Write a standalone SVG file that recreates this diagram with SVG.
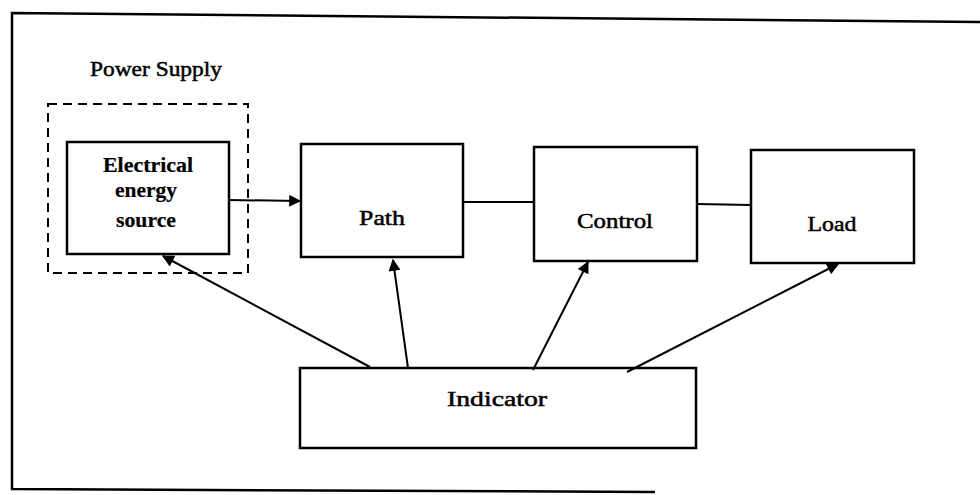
<svg xmlns="http://www.w3.org/2000/svg" width="980" height="495" viewBox="0 0 980 495">
<style>
.box{fill:#fff;stroke:#000;stroke-width:2.5}
.frame{fill:none;stroke:#000;stroke-width:2.5}
.dash{fill:none;stroke:#000;stroke-width:2;stroke-dasharray:9 6}
.ln{fill:none;stroke:#000;stroke-width:2}
.t{font-family:"Liberation Serif","Times New Roman",serif;font-size:21px;fill:#000;stroke:#000;stroke-width:0.5;text-anchor:middle}
.tb{font-weight:bold;stroke-width:0.2}
</style>
<defs>
<marker id="ah" viewBox="0 0 10 10" refX="9" refY="5" markerWidth="7" markerHeight="6" orient="auto" markerUnits="strokeWidth">
<path d="M0,0 L10,5 L0,10 z" fill="#000"/>
</marker>
</defs>
<rect width="980" height="495" fill="#fff"/>
<g id="frame">
<polyline class="frame" points="980,22 12,13 12,489 655,492"/>
</g>
<g id="power-supply">
<rect class="dash" x="48" y="104" width="200" height="169"/>
<text class="t" x="156" y="76" textLength="132" lengthAdjust="spacingAndGlyphs">Power Supply</text>
</g>
<g id="source">
<rect class="box" x="67" y="142" width="162" height="112"/>
<text class="t tb" x="148" y="172" textLength="90" lengthAdjust="spacingAndGlyphs">Electrical</text>
<text class="t tb" x="146" y="197" textLength="62" lengthAdjust="spacingAndGlyphs">energy</text>
<text class="t tb" x="146" y="227" textLength="60" lengthAdjust="spacingAndGlyphs">source</text>
</g>
<g id="path">
<rect class="box" x="301" y="144" width="162" height="113"/>
<text class="t" x="382" y="225" textLength="46" lengthAdjust="spacingAndGlyphs">Path</text>
</g>
<g id="control">
<rect class="box" x="534" y="147" width="163" height="114"/>
<text class="t" x="615" y="228" textLength="76" lengthAdjust="spacingAndGlyphs">Control</text>
</g>
<g id="load">
<rect class="box" x="751" y="150" width="163" height="113"/>
<text class="t" x="832" y="231" textLength="49" lengthAdjust="spacingAndGlyphs">Load</text>
</g>
<g id="indicator">
<rect class="box" x="300" y="368" width="396" height="80"/>
<text class="t" x="497" y="406" font-size="23" textLength="100" lengthAdjust="spacingAndGlyphs">Indicator</text>
</g>
<g id="connectors">
<line class="ln" x1="229" y1="200" x2="300" y2="201" marker-end="url(#ah)"/>
<line class="ln" x1="463" y1="202" x2="534" y2="202"/>
<line class="ln" x1="697" y1="204" x2="751" y2="205"/>
<line class="ln" x1="370" y1="367" x2="163" y2="256" marker-end="url(#ah)"/>
<line class="ln" x1="408" y1="368" x2="393" y2="260" marker-end="url(#ah)"/>
<line class="ln" x1="533" y1="370" x2="588" y2="262" marker-end="url(#ah)"/>
<line class="ln" x1="627" y1="372" x2="838" y2="264" marker-end="url(#ah)"/>
</g>
</svg>
